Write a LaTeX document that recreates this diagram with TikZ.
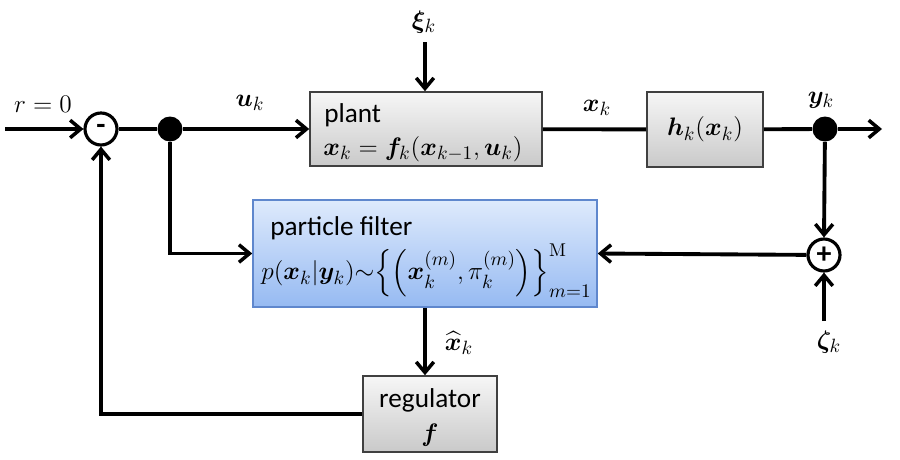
\documentclass[tikz,border=0pt]{standalone}
\usepackage{amsmath,amssymb,bm}
\usepackage{fontspec}
\newfontfamily\lblfont{Carlito}
\usetikzlibrary{arrows.meta}
\definecolor{pftop}{RGB}{222,234,252}
\definecolor{pfbot}{RGB}{150,186,242}
\definecolor{pfline}{RGB}{95,135,205}
\newcommand{\sanslbl}{\lblfont\fontsize{15.5pt}{18pt}\selectfont}
\begin{document}
\begin{tikzpicture}[x=0.02cm,y=-0.02cm,
  font=\fontsize{15pt}{18pt}\selectfont,
  graybox/.style={draw=black!75, line width=0.9pt, top color=gray!7, bottom color=gray!42, inner sep=0pt},
  pfbox/.style={draw=pfline, line width=0.9pt, top color=pftop, bottom color=pfbot, inner sep=0pt},
  wire/.style={line width=2.2pt},
  arr/.style={wire, -{Straight Barb[length=6pt,width=10pt,line width=2pt]}},
  sumc/.style={circle, draw, line width=1.8pt, fill=white, minimum size=0.64cm, inner sep=0pt, font=\lblfont\bfseries\fontsize{17pt}{17pt}\selectfont},
  dotn/.style={circle, fill=black, minimum size=0.5cm, inner sep=0pt},
  txt/.style={inner sep=0pt}]
\path[use as bounding box, fill=white] (0,0) rectangle (900,460);

% blocks
\node[sumc] (minus) at (101,129) {-};
\node[dotn] (d1) at (170,129) {};
\node[graybox, minimum width=4.64cm, minimum height=1.48cm] (plant) at (426,129) {};
\node[graybox, minimum width=2.32cm, minimum height=1.5cm] (h) at (705,129.5) {$\bm{h}_k(\bm{x}_k)$};
\node[dotn] (d2) at (825,129) {};
\node[sumc] (plus) at (824,255) {+};
\node[pfbox, minimum width=6.88cm, minimum height=2.14cm] (pf) at (425,253.5) {};
\node[graybox, minimum width=2.68cm, minimum height=1.52cm] (reg) at (430,414) {};

% texts
\node[txt, anchor=base west] (plantlbl) at (324,122) {\sanslbl plant};
\node[txt, anchor=base west] (planteq) at (323,155) {$\bm{x}_k = \bm{f}_k(\bm{x}_{k-1},\bm{u}_k)$};
\node[txt, anchor=base west] (pflbl) at (270,235) {\sanslbl particle filter};
\node[txt, anchor=west] (pfeq) at (261,271) {$p(\bm{x}_k|\bm{y}_k){\sim}\Bigl\{\Bigl(\bm{x}_k^{(m)},\pi_k^{(m)}\Bigr)\Bigr\}_{m=1}^{\mathrm{M}}$};
\node[txt, anchor=base] (reglbl) at (430,407) {\sanslbl regulator};
\node[txt] (regf) at (430,435) {$\bm{f}$};

% labels
\node[txt] (rlbl) at (43,104) {$r=0$};
\node[txt] (ulbl) at (250,103) {$\bm{u}_k$};
\node[txt] (xilbl) at (424,22) {$\bm{\xi}_k$};
\node[txt] (xlbl) at (597,108) {$\bm{x}_k$};
\node[txt] (ylbl) at (821,100) {$\bm{y}_k$};
\node[txt] (zlbl) at (829,342) {$\bm{\zeta}_k$};
\node[txt] (xhlbl) at (459,343) {$\widehat{\bm{x}}_k$};

% free ends
\coordinate (in) at (5,129);
\coordinate (out) at (882,129);
\coordinate (xi) at (425,42);
\coordinate (zeta) at (824,321);

% connectors
\draw[arr] (in) -- (minus.west);
\draw[wire] (minus) -- (d1);
\draw[arr] (d1) -- (plant.west);
\draw[arr] (xi) -- (xi |- plant.north);
\draw[wire] (plant) -- (h);
\draw[wire] (h) -- (d2);
\draw[arr] (d2) -- (out);
\draw[arr] (d2) -- (plus.north);
\draw[arr] (zeta) -- (plus.south);
\draw[arr] (plus) -- (pf.east);
\draw[arr] (d1) |- (pf.west);
\draw[arr] (pf.south) -- (pf.south |- reg.north);
\draw[arr] (reg.west) -| (minus.south);
\end{tikzpicture}
\end{document}
